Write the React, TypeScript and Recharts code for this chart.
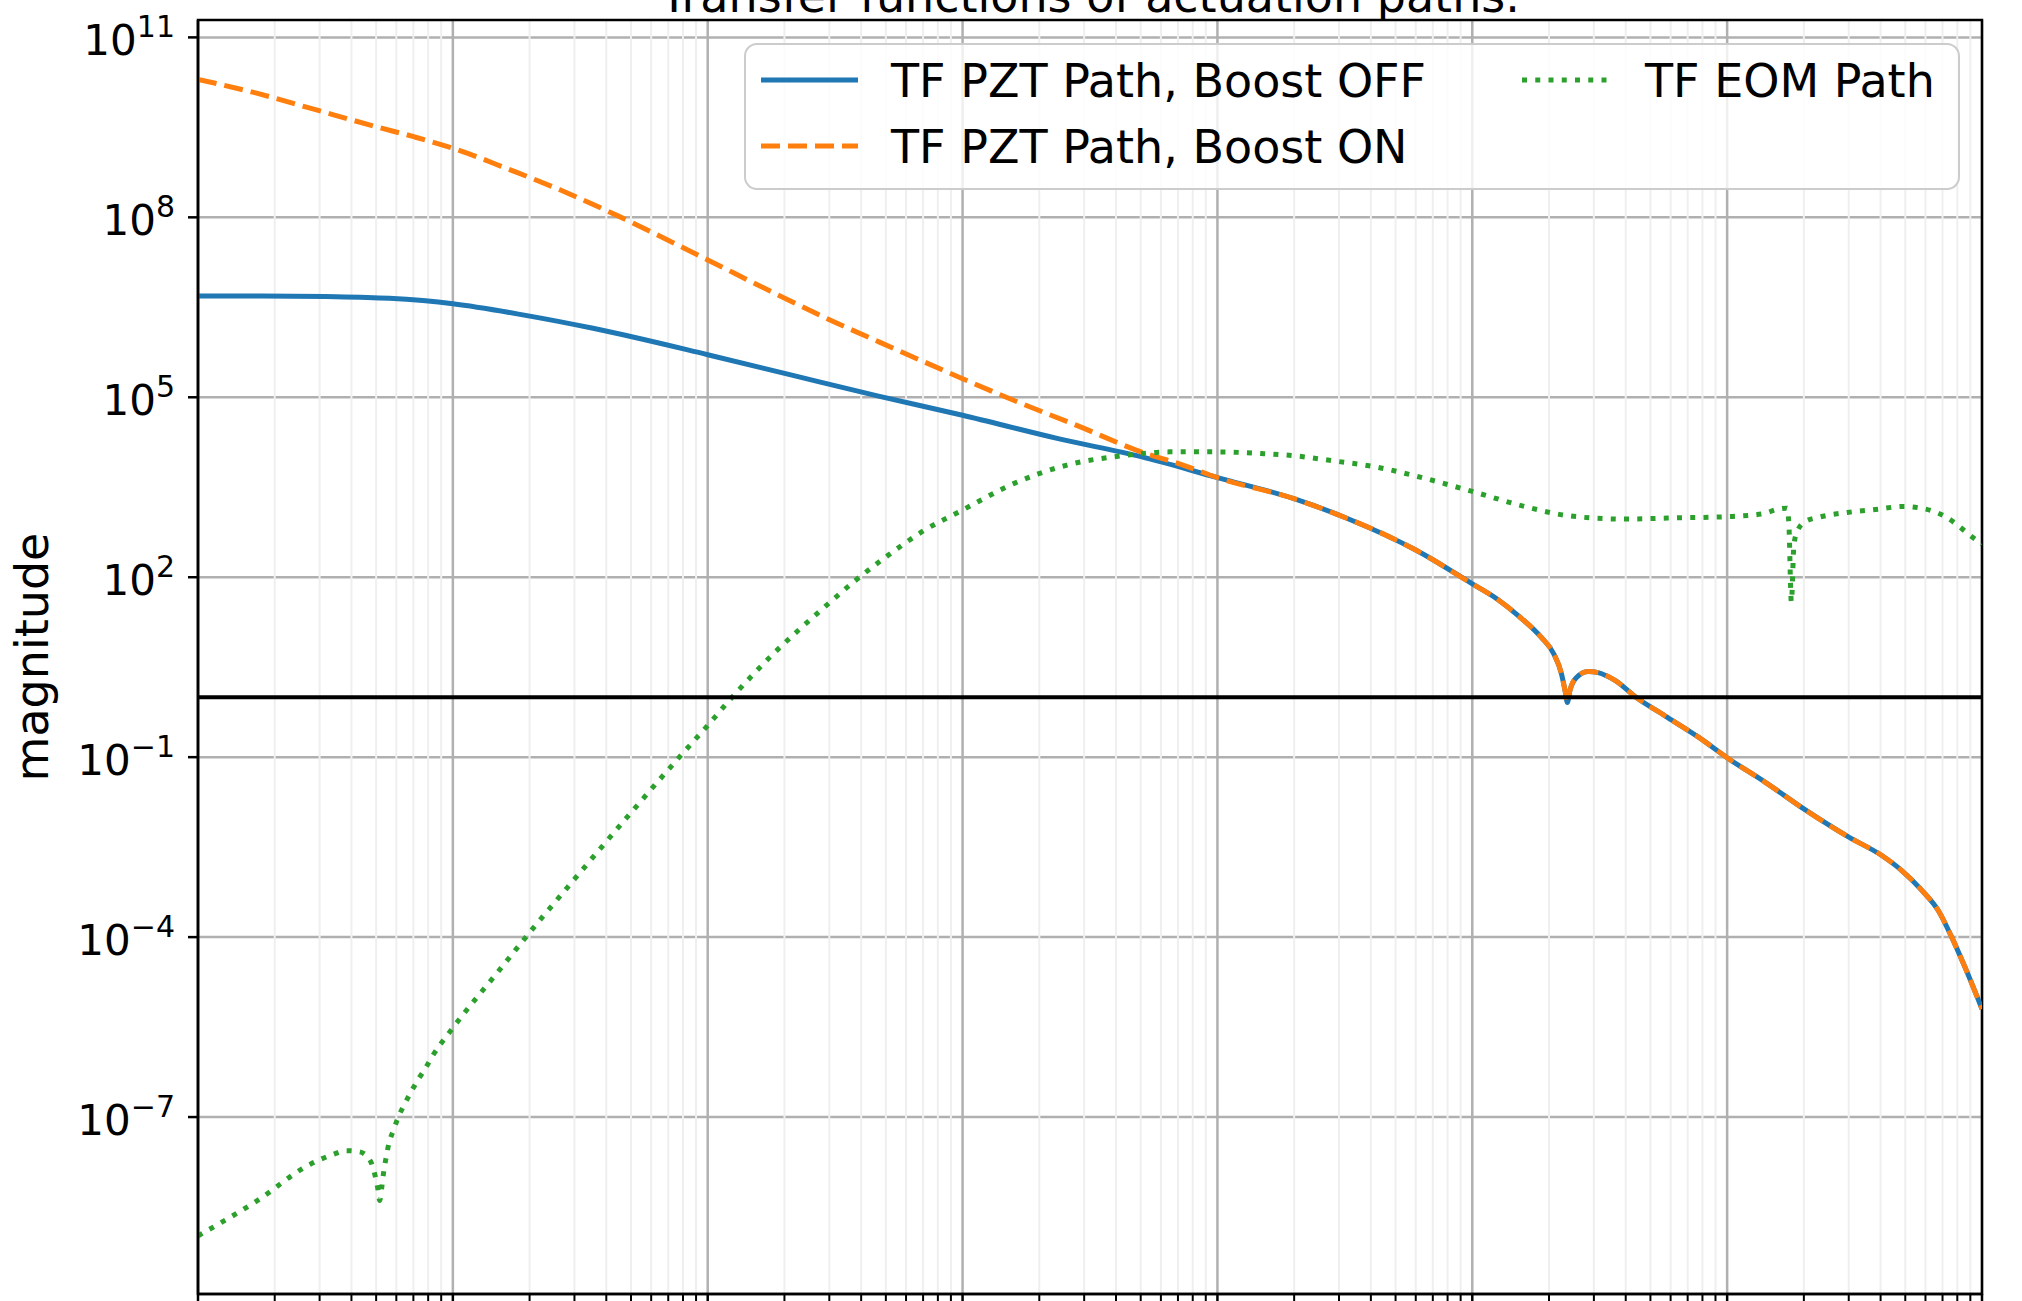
import { LineChart, Line, XAxis, YAxis, CartesianGrid, ReferenceLine, ReferenceArea, Legend } from 'recharts'

// values, stored as log10(frequency) / log10(magnitude)
const seriesNames = ['TF PZT Path, Boost OFF', 'TF PZT Path, Boost ON', 'TF EOM Path']

const boostOffLogF = [0, 0.25, 0.5, 0.75, 1.0, 1.28, 1.55, 2.0, 2.33, 2.67, 3.0, 3.375, 3.7, 4.0, 4.3, 4.51, 4.78, 5.0, 5.1, 5.18, 5.27, 5.32, 5.35, 5.364, 5.373, 5.383, 5.409, 5.455, 5.494, 5.56, 5.645, 5.756, 5.889, 6.0, 6.15, 6.307, 6.476, 6.607, 6.685, 6.764, 6.829, 6.881, 6.933, 7.0]
const boostOffLogMag = [6.69, 6.69, 6.68, 6.65, 6.56, 6.37, 6.15, 5.71, 5.37, 5.02, 4.7, 4.31, 4.01, 3.66, 3.31, 2.98, 2.45, 1.89, 1.63, 1.36, 1.0, 0.72, 0.39, 0.11, -0.09, 0.11, 0.33, 0.43, 0.41, 0.28, -0.01, -0.31, -0.67, -1.01, -1.42, -1.88, -2.33, -2.64, -2.89, -3.22, -3.56, -4.0, -4.5, -5.2]

// boost ON only differs below ~10^4, above that it sits on the boost OFF curve
const boostOnLogF = [0, 0.23, 0.44, 0.7, 0.85, 1.0, 1.1, 1.19, 1.42, 1.65, 2.0, 2.245, 2.51, 2.674, 3.0, 3.2, 3.46, 3.7, 3.865]
const boostOnLogMag = [10.3, 10.07, 9.82, 9.51, 9.34, 9.15, 9.0, 8.85, 8.46, 8.02, 7.29, 6.77, 6.23, 5.92, 5.31, 4.95, 4.51, 4.09, 3.87]

const eomLogF = [0, 0.237, 0.426, 0.478, 0.526, 0.582, 0.634, 0.676, 0.694, 0.705, 0.713, 0.722, 0.729, 0.738, 0.749, 0.767, 0.786, 0.81, 0.836, 0.863, 0.893, 0.922, 0.988, 1.194, 1.3, 1.478, 1.694, 1.876, 2.0, 2.096, 2.245, 2.455, 2.578, 2.706, 2.849, 3.0, 3.2, 3.41, 3.637, 3.813, 4.0, 4.18, 4.29, 4.455, 4.62, 4.785, 5.0, 5.205, 5.37, 5.587, 5.805, 6.0, 6.143, 6.195, 6.235, 6.242, 6.252, 6.262, 6.275, 6.307, 6.36, 6.471, 6.582, 6.693, 6.748, 6.801, 6.852, 6.898, 6.941, 7.0]
const eomLogMag = [-8.98, -8.38, -7.82, -7.71, -7.63, -7.56, -7.58, -7.73, -7.96, -8.18, -8.39, -8.14, -7.9, -7.68, -7.44, -7.22, -7.0, -6.79, -6.58, -6.38, -6.18, -5.97, -5.58, -4.49, -3.93, -3.03, -1.95, -1.06, -0.47, 0.0, 0.67, 1.49, 1.94, 2.36, 2.78, 3.12, 3.56, 3.87, 4.03, 4.09, 4.09, 4.06, 4.03, 3.94, 3.84, 3.68, 3.43, 3.18, 3.03, 2.97, 2.99, 3.01, 3.06, 3.13, 3.15, 2.91, 1.59, 2.54, 2.76, 2.93, 3.0, 3.08, 3.13, 3.18, 3.16, 3.11, 3.02, 2.89, 2.74, 2.55]

const xDecades = [0, 1, 2, 3, 4, 5, 6, 7]
const minorSteps = [2, 3, 4, 5, 6, 7, 8, 9]
const yTickExponents = [-7, -4, -1, 2, 5, 8, 11]
const yDomainLog = [-9.95, 11.29]

const FONT = '"DejaVu Sans", sans-serif'
const BLUE = '#1f77b4'
const ORANGE = '#ff7f0e'
const GREEN = '#2ca02c'

const toPoints = (logF: number[], logMag: number[]) =>
  logF.map((d, i) => ({ f: 10 ** d, mag: 10 ** logMag[i] }))

const boostOff = toPoints(boostOffLogF, boostOffLogMag)
const sharedStart = boostOffLogF.findIndex((d) => d >= 4)
const boostOn = [
  ...toPoints(boostOnLogF, boostOnLogMag),
  ...boostOff.slice(sharedStart),
]
const eom = toPoints(eomLogF, eomLogMag)

const xMajor = new Set(xDecades.map((d) => 10 ** d))
const xTicks = xDecades.flatMap((d) =>
  d < 7 ? [10 ** d, ...minorSteps.map((m) => m * 10 ** d)] : [10 ** d]
)
const yTicks = yTickExponents.map((e) => 10 ** e)
const yDomain = [10 ** yDomainLog[0], 10 ** yDomainLog[1]]

function XTick({ x, y, payload }: any) {
  const major = xMajor.has(payload.value)
  return (
    <line x1={x} x2={x} y1={y} y2={y + (major ? 12 : 7)} stroke="#000" strokeWidth={major ? 2.5 : 2} />
  )
}

function YTick({ x, y, payload }: any) {
  const exp = Math.round(Math.log10(payload.value))
  const label = exp < 0 ? `\u2212${-exp}` : `${exp}`
  return (
    <text x={x} y={y + 18} textAnchor="end" fontSize={42} fill="#000" fontFamily={FONT}>
      10
      <tspan dy={-18} fontSize={30}>{label}</tspan>
    </text>
  )
}

function renderVGrid(props: any) {
  const { x1, y1, x2, y2, index } = props
  const value = xTicks[index]
  if (value === undefined) return <g key={`vg-${index}`} />
  const major = xMajor.has(value)
  return (
    <line
      key={`vg-${index}`}
      x1={x1}
      y1={y1}
      x2={x2}
      y2={y2}
      stroke={major ? '#b0b0b0' : '#efefef'}
      strokeWidth={major ? 2.5 : 2}
    />
  )
}

function MagnitudeLabel(props: any) {
  const vb = props.viewBox || { y: 20, height: 1274 }
  const cy = vb.y + vb.height / 2
  return (
    <text x={48} y={cy} transform={`rotate(-90 48 ${cy})`} textAnchor="middle" fontSize={46} fill="#000" fontFamily={FONT}>
      magnitude
    </text>
  )
}

const legendItems = [
  { name: seriesNames[0], color: BLUE, dash: undefined, lx1: 17, lx2: 114, tx: 147, y: 37 },
  { name: seriesNames[1], color: ORANGE, dash: '19 8', lx1: 17, lx2: 114, tx: 147, y: 103 },
  { name: seriesNames[2], color: GREEN, dash: '5 8.25', lx1: 778, lx2: 866, tx: 901, y: 37 },
]

function LegendBox() {
  return (
    <svg width={1216} height={148} style={{ display: 'block' }}>
      <rect x={1} y={1} width={1214} height={145} rx={12} fill="#fff" fillOpacity={0.8} stroke="#cccccc" strokeWidth={2} />
      {legendItems.map((it) => (
        <g key={it.name}>
          <line x1={it.lx1} x2={it.lx2} y1={it.y} y2={it.y} stroke={it.color} strokeWidth={5} strokeDasharray={it.dash} />
          <text x={it.tx} y={it.y + 17} fontSize={46} fill="#000" fontFamily={FONT}>
            {it.name}
          </text>
        </g>
      ))}
    </svg>
  )
}

export default function App() {
  return (
    <div style={{ position: 'absolute', left: 0, top: 0, width: 2022, height: 1301, background: '#fff', fontFamily: FONT }}>
      <LineChart width={2022} height={1301} margin={{ top: 20, right: 40, bottom: 0, left: 48 }}>
        <CartesianGrid stroke="#b0b0b0" strokeWidth={2.5} syncWithTicks vertical={renderVGrid} />
        <XAxis
          dataKey="f"
          type="number"
          scale="log"
          domain={[1, 1e7]}
          allowDataOverflow
          ticks={xTicks}
          interval={0}
          height={7}
          tickSize={0}
          tickMargin={0}
          tick={XTick}
          tickLine={false}
          axisLine={{ stroke: '#000', strokeWidth: 2.5 }}
        />
        <YAxis
          type="number"
          scale="log"
          domain={yDomain}
          allowDataOverflow
          ticks={yTicks}
          interval={0}
          width={150}
          tickSize={10}
          tickMargin={13}
          tick={YTick}
          tickLine={{ stroke: '#000', strokeWidth: 2.5 }}
          axisLine={{ stroke: '#000', strokeWidth: 2.5 }}
          label={MagnitudeLabel}
        />
        <Legend
          layout="horizontal"
          verticalAlign="middle"
          align="center"
          content={() => <LegendBox />}
          wrapperStyle={{ left: 744, top: 43, width: 1216, height: 148 }}
        />
        <Line data={boostOff} dataKey="mag" name={seriesNames[0]} type="monotone" stroke={BLUE} strokeWidth={5} dot={false} isAnimationActive={false} />
        <Line data={boostOn} dataKey="mag" name={seriesNames[1]} type="monotone" stroke={ORANGE} strokeWidth={5} strokeDasharray="19 8" dot={false} isAnimationActive={false} />
        <Line data={eom} dataKey="mag" name={seriesNames[2]} type="monotone" stroke={GREEN} strokeWidth={5} strokeDasharray="5 8.25" dot={false} isAnimationActive={false} />
        <ReferenceLine y={1} stroke="#000" strokeWidth={4} />
        <ReferenceArea x1={1} x2={1e7} y1={yDomain[0]} y2={yDomain[1]} fill="none" stroke="#000" strokeWidth={2.5} ifOverflow="visible" />
      </LineChart>
      <svg width={2022} height={20} style={{ position: 'absolute', left: 0, top: 0 }}>
        <text x={1090} y={12} textAnchor="middle" fontSize={46} fill="#000" fontFamily={FONT}>
          Transfer functions of actuation paths.
        </text>
      </svg>
    </div>
  )
}
